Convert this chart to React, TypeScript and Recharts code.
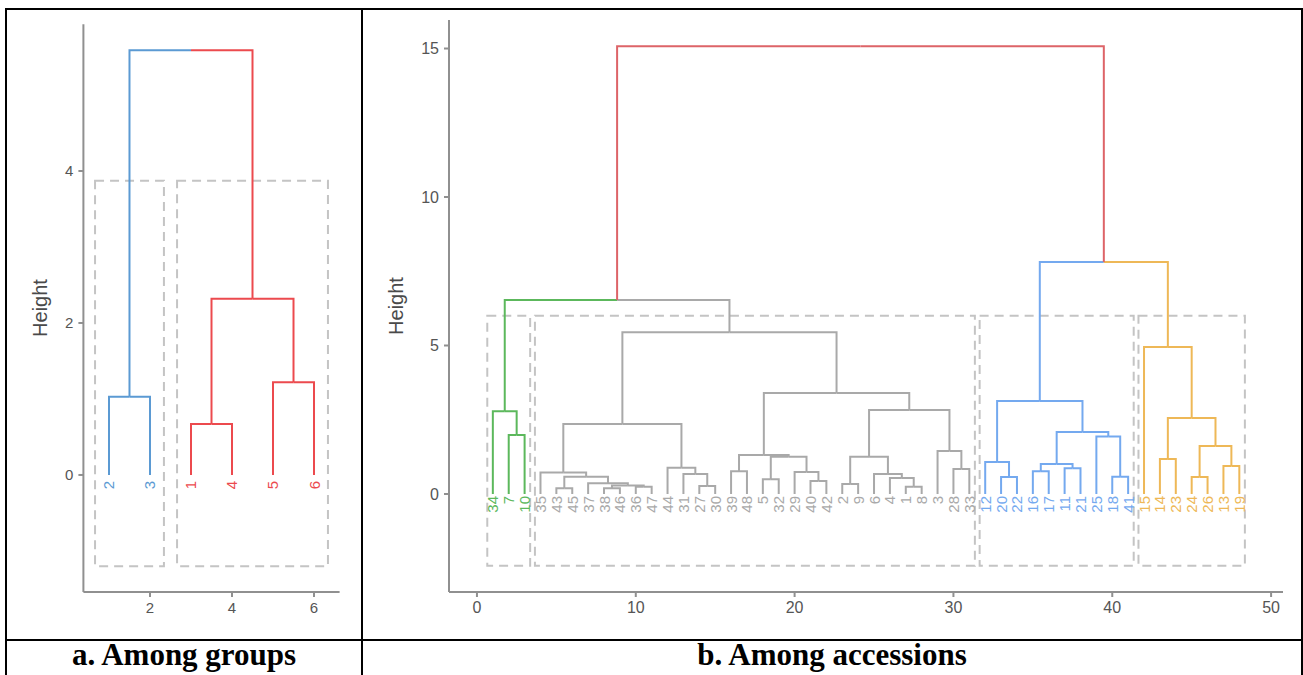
import React from "react";
import { ScatterChart, Scatter, XAxis, YAxis, ReferenceArea } from "recharts";

// ---------- Panel a: among groups ----------
const groupOrder = [2, 3, 1, 4, 5, 6];
const groupClusterSizes = [2, 4];
const groupClusterColors = ["#5B9AD3", "#EC4A4E"];
const groupTopColor = "#EC4A4E";
// hclust style merges: negative = leaf label, positive = earlier merge row (1-based)
const groupMerges: [number, number, number][] = [
  [-2, -3, 1.03],
  [-1, -4, 0.67],
  [-5, -6, 1.22],
  [2, 3, 2.32],
  [1, 4, 5.59],
];
const groupXTicks = [2, 4, 6];
const groupYTicks = [0, 2, 4];
const groupXDomain = [0.376, 6.624];
const groupYDomain = [-1.54, 5.93];
const groupBoxTop = 3.87;
const groupBoxBottom = -1.2;

// ---------- Panel b: among accessions ----------
const accOrder = [
  34, 7, 10,
  35, 43, 45, 37, 38, 46, 36, 47, 44, 31, 27, 30, 39, 48, 5, 32, 29, 40, 42, 2, 9, 6, 4, 1, 8, 3, 28, 33,
  12, 20, 22, 16, 17, 11, 21, 25, 18, 41,
  15, 14, 23, 24, 26, 13, 19,
];
const accClusterSizes = [3, 28, 10, 7];
const accClusterColors = ["#5CB85C", "#A9A9A9", "#74A9EF", "#EEB857"];
const accTopColor = "#DD6468";
const accMerges: [number, number, number][] = [
  [-7, -10, 1.99], // 1
  [-34, 1, 2.79], // 2
  [-38, -46, 0.19], // 3
  [-36, -47, 0.24], // 4
  [3, 4, 0.29], // 5
  [-37, 5, 0.36], // 6
  [-43, -45, 0.19], // 7
  [7, 6, 0.58], // 8
  [-35, 8, 0.72], // 9
  [-27, -30, 0.27], // 10
  [-31, 10, 0.67], // 11
  [-44, 11, 0.88], // 12
  [9, 12, 2.36], // 13
  [-39, -48, 0.77], // 14
  [-5, -32, 0.5], // 15
  [-40, -42, 0.44], // 16
  [-29, 16, 0.74], // 17
  [15, 17, 1.25], // 18
  [14, 18, 1.31], // 19
  [-2, -9, 0.34], // 20
  [-1, -8, 0.24], // 21
  [-4, 21, 0.54], // 22
  [-6, 22, 0.67], // 23
  [20, 23, 1.25], // 24
  [-28, -33, 0.84], // 25
  [-3, 25, 1.45], // 26
  [24, 26, 2.83], // 27
  [19, 27, 3.4], // 28
  [13, 28, 5.45], // 29
  [-20, -22, 0.57], // 30
  [-12, 30, 1.08], // 31
  [-16, -17, 0.77], // 32
  [-11, -21, 0.87], // 33
  [32, 33, 1.01], // 34
  [-18, -41, 0.58], // 35
  [-25, 35, 1.94], // 36
  [34, 36, 2.09], // 37
  [31, 37, 3.13], // 38
  [-14, -23, 1.18], // 39
  [-24, -26, 0.57], // 40
  [-13, -19, 0.94], // 41
  [40, 41, 1.62], // 42
  [39, 42, 2.56], // 43
  [-15, 43, 4.95], // 44
  [2, 29, 6.53], // 45
  [38, 44, 7.81], // 46
  [45, 46, 15.08], // 47
];
const accXTicks = [0, 10, 20, 30, 40, 50];
const accYTicks = [0, 5, 10, 15];
const accXDomain = [-1.76, 50.75];
const accYDomain = [-3.3, 15.96];
const accBoxTop = 6.0;
const accBoxBottom = -2.42;

type Pt = { x: number; y: number };

function buildTree(
  order: number[],
  merges: [number, number, number][],
  sizes: number[],
  colors: string[],
  topColor: string,
  boxTop: number,
  boxBottom: number,
  pad: number
) {
  const pos = new Map<number, number>();
  order.forEach((lab, i) => pos.set(lab, i + 1));
  const clusterOf = new Map<number, number>();
  const boxes: { x1: number; x2: number; y1: number; y2: number }[] = [];
  let k = 0;
  sizes.forEach((s, ci) => {
    const start = k + 1;
    for (let j = 0; j < s; j++) {
      clusterOf.set(order[k], ci);
      k++;
    }
    boxes.push({ x1: start - pad, x2: k + pad, y1: boxBottom, y2: boxTop });
  });
  const nodes: { x: number; h: number; cl: number }[] = [];
  const info = (ref: number) =>
    ref < 0
      ? { x: pos.get(-ref) as number, h: 0, cl: clusterOf.get(-ref) as number }
      : nodes[ref - 1];
  const links: { color: string; pts: Pt[] }[] = [];
  merges.forEach(([a, b, h]) => {
    const A = info(a);
    const B = info(b);
    const x = (A.x + B.x) / 2;
    const cl = A.cl === B.cl ? A.cl : -1;
    nodes.push({ x, h, cl });
    [A, B].forEach((c) =>
      links.push({
        color: c.cl >= 0 ? colors[c.cl] : topColor,
        pts: [
          { x: c.x, y: c.h },
          { x: c.x, y: h },
          { x, y: h },
        ],
      })
    );
  });
  const leaves = order.map((lab, i) => ({
    x: i + 1,
    y: 0,
    label: String(lab),
    color: colors[clusterOf.get(lab) as number],
  }));
  return { links, leaves, boxes };
}

const FONT = "'Liberation Sans', Arial, sans-serif";
const AXIS_COLOR = "#909090";
const TICK_COLOR = "#555555";
const BOX_COLOR = "#C4C4C4";

const Empty = () => <g />;

function makeLabel(fontSize: number, offset: number) {
  return (props: any) => {
    const { cx, cy, payload } = props;
    const y = cy + offset;
    return (
      <text
        x={cx}
        y={y}
        transform={`rotate(-90 ${cx} ${y})`}
        textAnchor="end"
        dominantBaseline="central"
        fill={payload.color}
        fontSize={fontSize}
        fontFamily={FONT}
      >
        {payload.label}
      </text>
    );
  };
}

function Dendro(props: {
  width: number;
  height: number;
  margin: any;
  tree: ReturnType<typeof buildTree>;
  xDomain: number[];
  yDomain: number[];
  xTicks: number[];
  yTicks: number[];
  tickFont: number;
  labelFont: number;
  labelOffset: number;
}) {
  const { tree } = props;
  const LabelShape = makeLabel(props.labelFont, props.labelOffset);
  return (
    <ScatterChart width={props.width} height={props.height} margin={props.margin}>
      <XAxis
        type="number"
        dataKey="x"
        domain={props.xDomain}
        ticks={props.xTicks}
        allowDataOverflow
        height={30}
        axisLine={{ stroke: AXIS_COLOR, strokeWidth: 2 }}
        tickLine={{ stroke: AXIS_COLOR, strokeWidth: 2 }}
        tickSize={5}
        tickMargin={5}
        tick={{ fill: TICK_COLOR, fontSize: props.tickFont, fontFamily: FONT }}
      />
      <YAxis
        type="number"
        dataKey="y"
        domain={props.yDomain}
        ticks={props.yTicks}
        allowDataOverflow
        width={40}
        axisLine={{ stroke: AXIS_COLOR, strokeWidth: 2 }}
        tickLine={{ stroke: AXIS_COLOR, strokeWidth: 2 }}
        tickSize={5}
        tickMargin={5}
        tick={{ fill: TICK_COLOR, fontSize: props.tickFont, fontFamily: FONT }}
      />
      {tree.links.map((l, i) => (
        <Scatter
          key={"l" + i}
          data={l.pts}
          fill={l.color}
          line={{ stroke: l.color, strokeWidth: 2 }}
          lineType="joint"
          shape={Empty}
          isAnimationActive={false}
        />
      ))}
      {tree.boxes.map((b, i) => (
        <ReferenceArea
          key={"b" + i}
          x1={b.x1}
          x2={b.x2}
          y1={b.y1}
          y2={b.y2}
          fill="none"
          fillOpacity={0}
          stroke={BOX_COLOR}
          strokeWidth={2}
          strokeDasharray="9 6"
          ifOverflow="visible"
        />
      ))}
      <Scatter
        data={tree.leaves}
        shape={LabelShape}
        isAnimationActive={false}
      />
    </ScatterChart>
  );
}

const groupTree = buildTree(
  groupOrder,
  groupMerges,
  groupClusterSizes,
  groupClusterColors,
  groupTopColor,
  groupBoxTop,
  groupBoxBottom,
  0.34
);
const accTree = buildTree(
  accOrder,
  accMerges,
  accClusterSizes,
  accClusterColors,
  accTopColor,
  accBoxTop,
  accBoxBottom,
  0.35
);

const line = (l: number, t: number, w: number, h: number) => (
  <div style={{ position: "absolute", left: l, top: t, width: w, height: h, background: "#000" }} />
);

const heightLabel = (cx: number, cy: number) => (
  <div
    style={{
      position: "absolute",
      left: cx - 50,
      top: cy - 12,
      width: 100,
      height: 24,
      lineHeight: "24px",
      textAlign: "center",
      transform: "rotate(-90deg)",
      fontFamily: FONT,
      fontSize: 20,
      color: "#4a4a4a",
    }}
  >
    Height
  </div>
);

const caption = (l: number, w: number, text: string) => (
  <div
    style={{
      position: "absolute",
      left: l,
      top: 638,
      width: w,
      height: 34,
      lineHeight: "34px",
      textAlign: "center",
      fontFamily: "'Liberation Serif', 'Times New Roman', serif",
      fontWeight: "bold",
      fontSize: 31,
      color: "#000",
      whiteSpace: "nowrap",
    }}
  >
    {text}
  </div>
);

export default function App() {
  return (
    <div
      style={{
        position: "absolute",
        left: 0,
        top: 0,
        width: 1303,
        height: 675,
        background: "#fff",
        overflow: "hidden",
      }}
    >
      <div style={{ position: "absolute", left: 0, top: 0 }}>
        <Dendro
          width={362}
          height={634}
          margin={{ top: 24.3, right: 22.4, bottom: 12, left: 43.4 }}
          tree={groupTree}
          xDomain={groupXDomain}
          yDomain={groupYDomain}
          xTicks={groupXTicks}
          yTicks={groupYTicks}
          tickFont={15}
          labelFont={15}
          labelOffset={6}
        />
      </div>
      <div style={{ position: "absolute", left: 362, top: 0 }}>
        <Dendro
          width={941}
          height={634}
          margin={{ top: 20, right: 20, bottom: 12, left: 47 }}
          tree={accTree}
          xDomain={accXDomain}
          yDomain={accYDomain}
          xTicks={accXTicks}
          yTicks={accYTicks}
          tickFont={16}
          labelFont={15}
          labelOffset={2}
        />
      </div>
      {heightLabel(40, 308)}
      {heightLabel(396, 306)}
      {line(5, 8, 1298, 2)}
      {line(5, 8, 2, 667)}
      {line(1301, 8, 2, 667)}
      {line(361, 8, 2, 667)}
      {line(5, 639, 1298, 2)}
      {caption(7, 354, "a. Among groups")}
      {caption(363, 938, "b. Among accessions")}
    </div>
  );
}
